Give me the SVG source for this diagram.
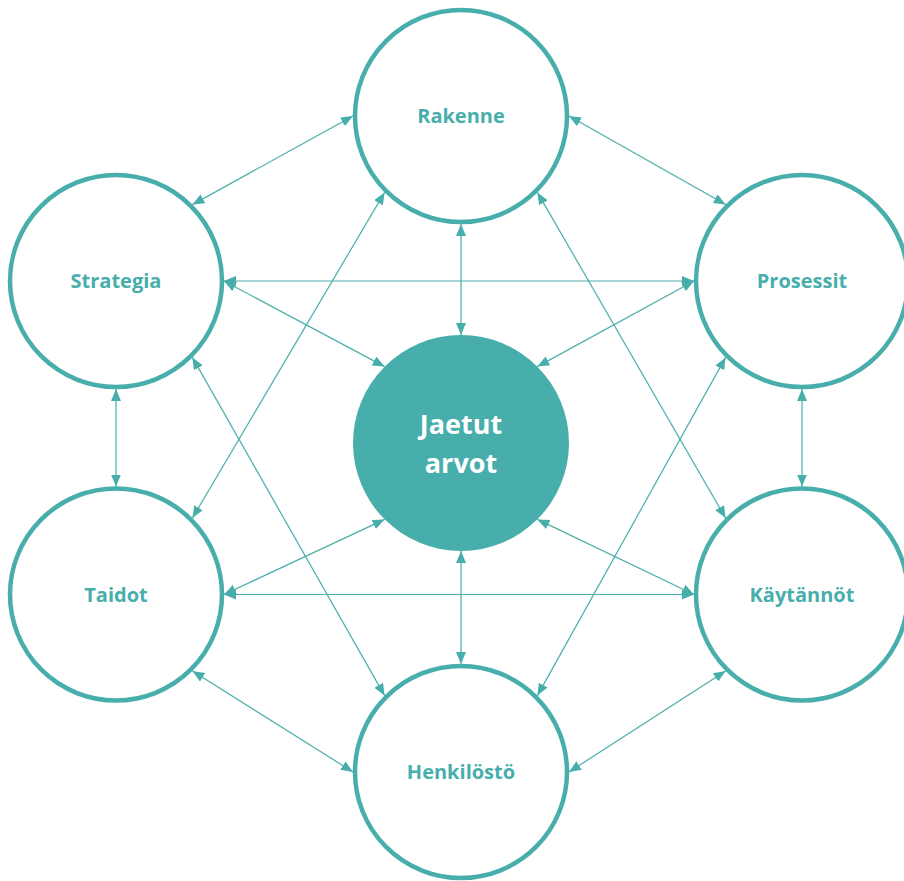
<svg xmlns="http://www.w3.org/2000/svg" width="904" height="881" viewBox="0 0 904 881">
  <style>
    .ring { fill: #ffffff; stroke: #47aeab; stroke-width: 4.5; }
    .core { fill: #47aeab; }
    .label { font-family: "Open Sans", "Liberation Sans", sans-serif; font-weight: 700; font-size: 20px; fill: #47aeab; text-anchor: middle; }
    .core-label { font-family: "Open Sans", "Liberation Sans", sans-serif; font-weight: 700; font-size: 27px; fill: #ffffff; text-anchor: middle; }
    .link { stroke: #4aaeab; stroke-width: 1.2; fill: none; marker-start: url(#tip); marker-end: url(#tip); }
  </style>
  <defs>
    <marker id="tip" viewBox="0 0 12 10" refX="12" refY="5" markerWidth="12" markerHeight="10" markerUnits="userSpaceOnUse" orient="auto-start-reverse">
      <path d="M0,0 L12,5 L0,10 z" fill="#47aeab"/>
    </marker>
  </defs>
  <rect width="904" height="881" fill="#ffffff"/>

  <g id="rakenne">
    <circle class="ring" cx="461" cy="116" r="106"/>
    <text class="label" x="461" y="123">Rakenne</text>
  </g>
  <g id="strategia">
    <circle class="ring" cx="116" cy="281" r="106"/>
    <text class="label" x="116" y="288">Strategia</text>
  </g>
  <g id="prosessit">
    <circle class="ring" cx="802" cy="281" r="106"/>
    <text class="label" x="802" y="288">Prosessit</text>
  </g>
  <g id="taidot">
    <circle class="ring" cx="116" cy="594.5" r="106"/>
    <text class="label" x="116" y="601.5">Taidot</text>
  </g>
  <g id="kaytannot">
    <circle class="ring" cx="802" cy="594.5" r="106"/>
    <text class="label" x="802" y="601.5">Käytännöt</text>
  </g>
  <g id="henkilosto">
    <circle class="ring" cx="461" cy="772" r="106"/>
    <text class="label" x="461" y="779">Henkilöstö</text>
  </g>
  <g id="jaetut-arvot">
    <circle class="core" cx="461" cy="443" r="108"/>
    <text class="core-label" x="461" y="434">Jaetut</text>
    <text class="core-label" x="461" y="473">arvot</text>
  </g>

  <g id="connectors">
    <!-- outer ring -->
    <line class="link" x1="353" y1="116" x2="192.4" y2="204.6"/>
    <line class="link" x1="569" y1="116" x2="725.6" y2="204.6"/>
    <line class="link" x1="116" y1="389" x2="116" y2="486.5"/>
    <line class="link" x1="802" y1="389" x2="802" y2="486.5"/>
    <line class="link" x1="192.4" y1="670.9" x2="353" y2="772"/>
    <line class="link" x1="725.6" y1="670.9" x2="569" y2="772"/>
    <!-- horizontals -->
    <line class="link" x1="224" y1="281" x2="694" y2="281"/>
    <line class="link" x1="224" y1="594.5" x2="694" y2="594.5"/>
    <!-- long diagonals -->
    <line class="link" x1="384.6" y1="192.4" x2="192.4" y2="518.1"/>
    <line class="link" x1="537.4" y1="192.4" x2="725.6" y2="518.1"/>
    <line class="link" x1="192.4" y1="357.4" x2="384.6" y2="695.6"/>
    <line class="link" x1="725.6" y1="357.4" x2="537.4" y2="695.6"/>
    <!-- spokes to the core -->
    <line class="link" x1="461" y1="224" x2="461" y2="335"/>
    <line class="link" x1="461" y1="551" x2="461" y2="664"/>
    <line class="link" x1="224" y1="281" x2="384.6" y2="366.6"/>
    <line class="link" x1="694" y1="281" x2="537.4" y2="366.6"/>
    <line class="link" x1="224" y1="594.5" x2="384.6" y2="519.4"/>
    <line class="link" x1="694" y1="594.5" x2="537.4" y2="519.4"/>
  </g>
</svg>
